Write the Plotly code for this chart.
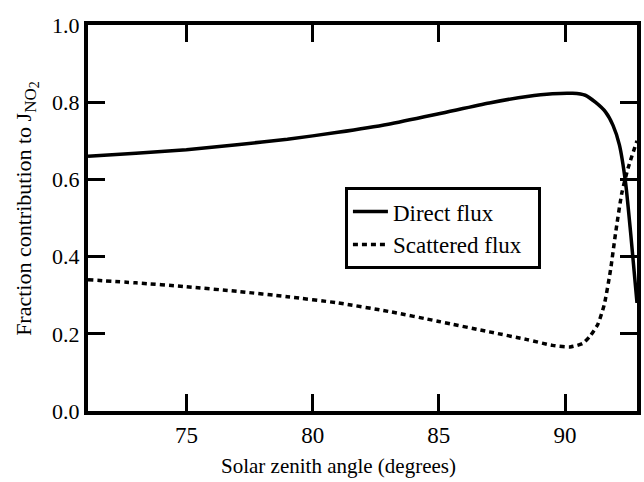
import plotly.graph_objects as go

# Direct flux
direct_sza = [71.1, 73, 75, 77, 79, 81, 83, 85, 87, 88.5, 89.5, 90.3, 90.8, 91.2, 91.6, 91.9, 92.15, 92.4, 92.6, 92.85]
direct_val = [0.660, 0.668, 0.677, 0.690, 0.704, 0.722, 0.743, 0.770, 0.798, 0.815, 0.822, 0.823, 0.818, 0.800, 0.775, 0.740, 0.690, 0.590, 0.460, 0.280]

# Scattered flux
scat_sza = [71.1, 73, 75, 77, 79, 81, 83, 85, 87, 88.5, 89.5, 90.2, 90.7, 91.0, 91.3, 91.55, 91.8, 92.0, 92.25, 92.5, 92.85]
scat_val = [0.340, 0.332, 0.322, 0.310, 0.296, 0.280, 0.258, 0.232, 0.205, 0.185, 0.170, 0.166, 0.175, 0.195, 0.225, 0.275, 0.365, 0.460, 0.565, 0.630, 0.700]

x_ticks = [75, 80, 85, 90]
y_ticks = [0.0, 0.2, 0.4, 0.6, 0.8, 1.0]

serif = "Liberation Serif"

fig = go.Figure()
fig.add_trace(go.Scatter(x=direct_sza, y=direct_val, mode="lines", name="Direct flux",
                         line=dict(color="black", width=3.5, shape="spline", smoothing=0.6)))
fig.add_trace(go.Scatter(x=scat_sza, y=scat_val, mode="lines", name="Scattered flux\u00a0\u00a0",
                         line=dict(color="black", width=3.5, dash="5px,4px", shape="spline", smoothing=0.6)))

axis_common = dict(showline=True, linecolor="black", linewidth=4, mirror="ticks",
                   ticks="inside", ticklen=17, tickwidth=3, tickcolor="black",
                   showgrid=False, zeroline=False)

fig.update_xaxes(range=[71.1, 92.85], tickvals=x_ticks, ticktext=[str(v) for v in x_ticks],
                 tickfont=dict(family=serif, size=23, color="black"), **axis_common)
fig.update_yaxes(range=[0, 1.0], tickvals=y_ticks, ticktext=[f"{v:.1f}" for v in y_ticks],
                 tickfont=dict(family=serif, size=22, color="black"), **axis_common)

fig.add_annotation(text="Solar zenith angle (degrees)", xref="paper", yref="paper",
                   x=0.456, y=-0.142, xanchor="center", yanchor="middle", showarrow=False,
                   font=dict(family=serif, size=21, color="black"))
fig.add_annotation(text="Fraction contribution to J<sub><span style='font-size:17px'>NO</span><sub><span style='font-size:14px'>2</span></sub></sub>",
                   xref="paper", yref="paper",
                   x=-0.112, y=0.525, xanchor="center", yanchor="middle", showarrow=False, textangle=-90,
                   font=dict(family=serif, size=22, color="black"))

fig.update_layout(
    width=644, height=482,
    margin=dict(l=88, r=3, t=25, b=71),
    paper_bgcolor="white", plot_bgcolor="white",
    font=dict(family=serif, color="black"),
    showlegend=True,
    legend=dict(x=0.468, y=0.58, xanchor="left", yanchor="top",
                bordercolor="black", borderwidth=3, bgcolor="white",
                font=dict(family=serif, size=23, color="black"),
                tracegroupgap=0, itemwidth=35),
)

fig.write_html("out.html", config={"displayModeBar": False},
               post_script="document.body.style.margin='0px';document.body.style.overflow='hidden';")
